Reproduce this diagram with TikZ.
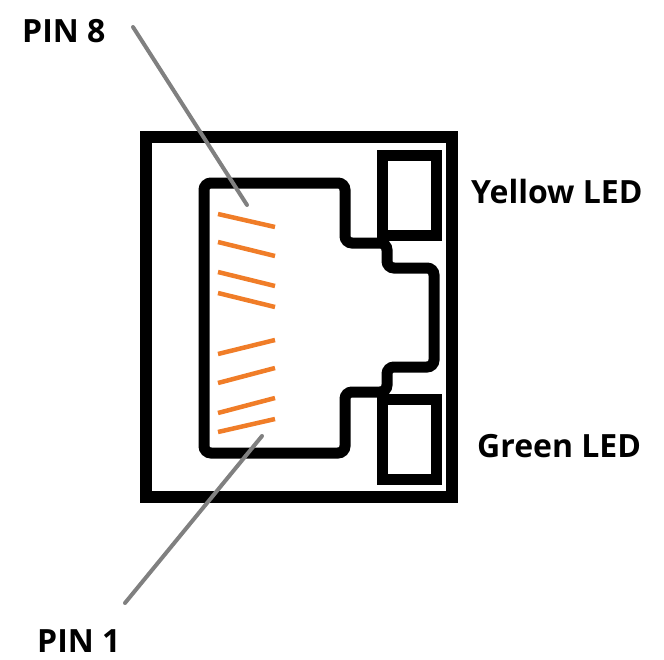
\documentclass[tikz,border=0pt]{standalone}
\usepackage{fontspec}
\setmainfont{Open Sans}
\usepackage{tikz}
\usetikzlibrary{calc}
\definecolor{pinorange}{RGB}{240,125,40}
\definecolor{leadgray}{RGB}{128,128,128}
\tikzset{
  label/.style={font=\fontsize{32}{32}\selectfont\bfseries,inner sep=0pt},
  housing/.style={line width=12pt},
  jack/.style={line width=11pt,rounded corners=7pt},
  led/.style={line width=11pt},
  contact/.style={pinorange,line width=4.5pt},
  lead/.style={leadgray,line width=4pt,line cap=round}
}

\begin{document}
\begin{tikzpicture}[x=1pt,y=-1pt]
\useasboundingbox (0,0) rectangle (664,659);
\draw[housing] (146,137) rectangle (452,497);
\draw[jack] (204,183) -- (345,183) -- (345,243) -- (387,243) -- (387,268) -- (434,268) -- (434,367) -- (387,367) -- (387,392) -- (345,392) -- (345,453) -- (204,453) -- cycle;
\draw[led] (382,155) rectangle (436,235);
\draw[led] (382,399) rectangle (436,479);
\foreach \yl/\yr in {214/227,242/256,272/286,293/307,354/340,383/368,413/398,432/419}
  \draw[contact] (218,\yl) -- (275,\yr);
\node[label,anchor=base west] (pin8) at (22,42) {PIN 8};
\node[label,anchor=base west] (pin1) at (37,652) {PIN 1};
\node[label,anchor=base west] (yellow) at (471,203) {Yellow LED};
\node[label,anchor=base west] (green) at (477,457) {Green LED};
\coordinate (p8a) at (133,27);
\coordinate (p8b) at (247,205);
\coordinate (p1a) at (125,603);
\coordinate (p1b) at (262,436);
\draw[lead] (p8a) -- (p8b);
\draw[lead] (p1a) -- (p1b);
\end{tikzpicture}
\end{document}
